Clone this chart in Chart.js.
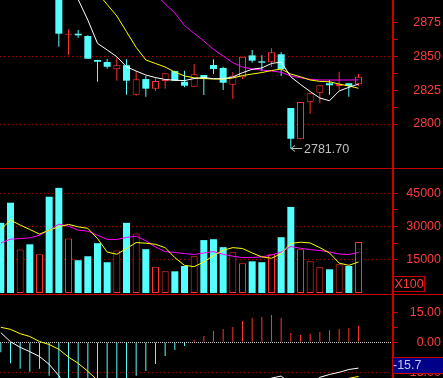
<!DOCTYPE html>
<html lang="en">
<head>
<meta charset="UTF-8">
<title>K-line</title>
<script src="https://cdn.jsdelivr.net/npm/chart.js"></script>
<style>
  body { margin: 0; background: #000; width: 443px; height: 378px; overflow: hidden; position: relative; }
  canvas { position: absolute; left: 0; }
</style>
</head>
<body>
<canvas id="priceChart" width="443" height="168" style="top:0px"></canvas>
<canvas id="volChart" width="443" height="126" style="top:168px"></canvas>
<canvas id="macdChart" width="443" height="84" style="top:294px"></canvas>
<script>
// candles (first six sit above the visible price range)
const opens  = [2958, 2946, 2926, 2934, 2918, 2927, 2906, 2866.0, 2866.7, 2865.0, 2847.3, 2845.8, 2840.4, 2843.4, 2821.6, 2833.2, 2826.1, 2831.8, 2839.1, 2831.2, 2827.5, 2836.2, 2843.6, 2841.4, 2829.0, 2834.5, 2850.7, 2846.3, 2845.6, 2851.5, 2811.8, 2788.7, 2816.0, 2823.1, 2830.1, 2828.1, 2830.1, 2829.3];
const highs  = [2962, 2949, 2940, 2936, 2930, 2929, 2908, 2870.0, 2869.4, 2865.5, 2847.5, 2848.0, 2849.3, 2847.8, 2839.1, 2835.5, 2834.2, 2837.4, 2839.3, 2839.4, 2844.3, 2836.2, 2847.8, 2842.3, 2838.4, 2849.7, 2854.7, 2850.7, 2855.9, 2853.0, 2811.8, 2816.2, 2822.7, 2828.6, 2832.5, 2838.6, 2830.1, 2836.9];
const lows   = [2941, 2925, 2920, 2915, 2912, 2904, 2857.1, 2851.0, 2863.7, 2848.0, 2831.2, 2840.8, 2832.0, 2821.6, 2821.0, 2820.2, 2824.6, 2826.1, 2832.0, 2827.1, 2827.5, 2821.4, 2836.9, 2825.1, 2818.7, 2833.2, 2845.3, 2838.9, 2842.3, 2835.5, 2781.7, 2788.7, 2807.6, 2815.3, 2821.6, 2825.1, 2820.2, 2828.1];
const closes = [2944, 2928, 2936, 2918, 2926, 2908, 2866.7, 2866.7, 2865.5, 2848.2, 2846.0, 2842.3, 2843.4, 2832.0, 2833.0, 2826.1, 2831.8, 2837.4, 2832.0, 2828.3, 2836.7, 2833.2, 2840.6, 2830.5, 2835.7, 2849.7, 2846.8, 2845.3, 2853.0, 2840.6, 2789.1, 2816.2, 2822.7, 2828.6, 2828.6, 2829.3, 2828.1, 2834.9];

// price moving averages
const ma5  = [null, null, null, null, null, null, 2922, 2906, 2892, 2876.8, 2859.6, 2854.7, 2849.7, 2842.3, 2839.1, 2836.2, 2834.3, 2832.9, 2832.3, 2832.1, 2833.6, 2834.3, 2833.5, 2833.5, 2834.7, 2837.9, 2840.4, 2841.4, 2844.7, 2845.8, 2834.9, 2829.2, 2824.0, 2819.2, 2817.2, 2824.4, 2827.1, 2829.5];
const ma10 = [null, null, null, null, null, null, null, null, null, 2905.6, 2896.8, 2888.3, 2879.8, 2868.2, 2856.6, 2847.3, 2844.7, 2842.1, 2838.4, 2835.5, 2834.1, 2833.6, 2833.2, 2833.2, 2834.0, 2835.8, 2836.9, 2838.0, 2839.5, 2840.6, 2836.9, 2834.9, 2832.5, 2831.5, 2831.2, 2829.5, 2828.1, 2826.4];
const ma20 = [null, null, null, null, null, null, null, null, null, null, null, null, null, null, 2908, 2902, 2895.3, 2888.8, 2882.0, 2872.7, 2867.0, 2861.3, 2855.2, 2850.2, 2845.3, 2842.1, 2840.6, 2839.9, 2839.1, 2838.2, 2835.5, 2834.2, 2833.0, 2832.5, 2832.5, 2832.5, 2832.5, 2832.6];

// volume (hands) and its averages
const volumes = [31700, 40800, 19600, 22000, 17500, 43500, 47500, 24600, 14800, 16600, 22500, 13900, 19200, 31700, 26900, 19800, 11900, 9800, 9800, 12200, 16600, 23900, 24300, 20700, 18400, 13400, 14300, 13900, 17500, 25200, 38900, 19800, 14300, 11600, 10700, 12950, 12200, 23000];
const volMa5  = [28700, 32950, 30700, 28700, 26600, 28400, 29900, 31000, 29900, 29200, 24600, 18500, 17500, 20100, 22800, 22500, 22000, 20500, 16000, 12500, 11900, 14000, 16900, 19300, 20500, 20100, 18100, 16300, 15700, 17800, 22400, 22950, 22600, 20500, 18100, 13500, 12500, 14000];
const volMa10 = [22600, 24300, 24600, 24900, 26100, 28400, 31100, 30200, 28400, 27950, 26100, 24200, 24200, 25100, 25700, 23600, 20800, 18700, 18300, 17800, 17400, 18100, 18700, 17500, 16600, 16000, 16000, 16300, 17200, 18500, 21000, 20200, 19600, 19200, 18500, 17600, 17400, 18300];

// MACD
const macdHist = [-5, -10.5, -13.2, -14.7, -13.2, -16.7, -21, -25, -28, -30, -30, -28, -25, -20.5, -16.7, -14.3, -10.8, -6.8, -3.8, -1.8, 1.2, 3.2, 5.7, 6.7, 7.7, 10.7, 12.2, 12.7, 13.7, 12.2, 4.7, 3.7, 4.3, 5.2, 6.2, 6.7, 7.2, 8.2];
const diff = [4.8, 0.3, -2.5, -4.7, -7.1, -11, -16.7, -24, -30, -35, -39, -42, -44, -45, -45, -44, -42, -40, -38, -35.5, -33, -30.5, -28, -26, -24, -22, -20.5, -19.5, -17.9, -16.9, -20.5, -22, -21.5, -17.5, -16.1, -15.0, -13.6, -12.9];
const dea  = [7.5, 6.5, 4.3, 2.9, 0.4, -1.1, -3.5, -7.4, -10.5, -14.5, -19, -23, -27, -30, -32.5, -34, -35, -35.5, -35.5, -35, -34, -33, -32, -31, -30, -29, -28, -27, -26, -24.5, -23.5, -23, -22.5, -21.5, -20.5, -19, -18, -17.1];
const macdReadout = -15.7;

// axis ticks
const priceTicks = [2800, 2812.5, 2825, 2837.5, 2850, 2862.5, 2875];
const priceLabels = [2800, 2825, 2850, 2875];
const priceGrid = [2800, 2850];
const volTicks = [15000, 22500, 30000, 37500, 45000];
const volLabels = [15000, 30000, 45000];
const macdTicks = [-15, -7.5, 0, 7.5, 15];
const macdLabels = [-15, 0, 15];

const CYAN = '#54ffff';
const RED = '#ff3232';
const AXIS_RED = '#c80000';
const GRID_RED = '#a80000';
const LABEL_RED = '#ff3c3c';
const FONT = 'Liberation Sans';

const isUp = closes.map((c, i) => c >= opens[i]);
const xy = (arr) => arr.map((v, i) => ({ x: i, y: v }));

const xAxis = { type: 'linear', display: false, offset: false, bounds: 'data', min: -0.086, max: 40.57 };

function rightAxis(min, max, tickVals, labelVals, fmt, gridColor, gridDash) {
    return {
        position: 'right',
        min: min,
        max: max,
        afterFit: (axis) => { axis.width = 48; axis.paddingTop = 0; axis.paddingBottom = 0; },
        afterBuildTicks: (axis) => { axis.ticks = tickVals.map(v => ({ value: v })); },
        ticks: {
            autoSkip: false,
            crossAlign: 'far',
            color: LABEL_RED,
            font: { family: FONT, size: 12.5 },
            callback: (v) => labelVals.includes(v) ? fmt(v) : ''
        },
        grid: {
            drawTicks: true,
            tickLength: 5,
            tickWidth: 1,
            tickColor: AXIS_RED,
            lineWidth: 1,
            color: (ctx) => (ctx.tick && gridColor(ctx.tick.value)) || 'rgba(0,0,0,0)'
        },
        border: {
            color: AXIS_RED,
            width: 2,
            dash: (ctx) => gridDash(ctx.tick ? ctx.tick.value : null)
        }
    };
}

const baseOptions = {
    responsive: false,
    animation: false,
    devicePixelRatio: 1,
    layout: { padding: { left: 0, right: 2, top: 0, bottom: 0 } },
    plugins: { legend: { display: false }, tooltip: { enabled: false } },
    elements: { point: { radius: 0 }, line: { borderWidth: 1, tension: 0 } }
};

function lineSet(data, color) {
    return { type: 'line', data: xy(data), borderColor: color, borderWidth: 1, pointRadius: 0, order: 0 };
}

function topLine(y) {
    return {
        id: 'separator',
        afterDraw(chart) {
            const c = chart.ctx;
            c.save();
            c.fillStyle = AXIS_RED;
            c.fillRect(0, y, chart.width, 1);
            c.restore();
        }
    };
}

// label for the lowest low
const lowMarker = {
    id: 'lowMarker',
    afterDatasetsDraw(chart) {
        const i = lows.indexOf(Math.min(...lows));
        const x = Math.floor(chart.scales.x.getPixelForValue(i)) + 1;
        const y = Math.floor(chart.scales.y.getPixelForValue(lows[i])) + 0.5;
        const c = chart.ctx;
        c.save();
        c.strokeStyle = '#c0c0c0';
        c.lineWidth = 1;
        c.beginPath();
        c.moveTo(x, y); c.lineTo(x + 11, y);
        c.moveTo(x, y); c.lineTo(x + 4, y - 3);
        c.moveTo(x, y); c.lineTo(x + 4, y + 3);
        c.stroke();
        c.fillStyle = '#c0c0c0';
        c.font = '12.5px ' + FONT;
        c.textBaseline = 'middle';
        c.fillText(lows[i].toFixed(2), x + 13, y + 1);
        c.restore();
    }
};

new Chart(document.getElementById('priceChart'), {
    type: 'bar',
    data: {
        datasets: [
            lineSet(ma5, '#ffffff'),
            lineSet(ma10, '#ffff00'),
            lineSet(ma20, '#ff00ff'),
            {
                data: opens.map((o, i) => ({ x: i, y: [Math.min(o, closes[i]), Math.max(o, closes[i])] })),
                backgroundColor: isUp.map(u => u ? '#000000' : CYAN),
                borderColor: isUp.map(u => u ? RED : CYAN),
                borderWidth: isUp.map(u => u ? 1 : 0),
                borderSkipped: false,
                inflateAmount: 0,
                barThickness: 7,
                minBarLength: 1,
                grouped: false,
                order: 1
            },
            {
                data: lows.map((l, i) => ({ x: i, y: [l, highs[i]] })),
                backgroundColor: isUp.map(u => u ? RED : CYAN),
                borderWidth: 0,
                inflateAmount: 0,
                barThickness: 1,
                grouped: false,
                order: 2
            }
        ]
    },
    options: Object.assign({}, baseOptions, {
        scales: {
            x: xAxis,
            y: rightAxis(2767.5, 2891.6, priceTicks, priceLabels, v => String(v),
                v => priceGrid.includes(v) ? GRID_RED : null, () => [1, 3])
        }
    }),
    plugins: [lowMarker]
});

const x100Box = {
    id: 'x100',
    afterDraw(chart) {
        const c = chart.ctx;
        const left = chart.chartArea.right + 1;
        c.save();
        c.strokeStyle = AXIS_RED;
        c.lineWidth = 1;
        c.strokeRect(left - 0.5, 108.5, 31, 15);
        c.fillStyle = LABEL_RED;
        c.font = '12.5px ' + FONT;
        c.textAlign = 'center';
        c.textBaseline = 'middle';
        c.fillText('X100', left + 15, 117);
        c.restore();
    }
};

new Chart(document.getElementById('volChart'), {
    type: 'bar',
    data: {
        datasets: [
            lineSet(volMa5, '#ffff00'),
            lineSet(volMa10, '#ff00ff'),
            {
                data: xy(volumes),
                backgroundColor: isUp.map(u => u ? '#000000' : CYAN),
                borderColor: isUp.map(u => u ? RED : CYAN),
                borderWidth: isUp.map(u => u ? 1 : 0),
                borderSkipped: false,
                inflateAmount: 0,
                barThickness: 7,
                grouped: false,
                order: 1
            }
        ]
    },
    options: Object.assign({}, baseOptions, {
        scales: {
            x: xAxis,
            y: rightAxis(-452, 56475, volTicks, volLabels, v => String(v),
                v => volLabels.includes(v) ? GRID_RED : null, () => [1, 3])
        }
    }),
    plugins: [topLine(0), x100Box]
});

const readoutBox = {
    id: 'readout',
    afterDraw(chart) {
        const c = chart.ctx;
        const left = chart.chartArea.right;
        c.save();
        c.fillStyle = '#000088';
        c.fillRect(left, 63, chart.width - left, 17);
        c.fillStyle = AXIS_RED;
        c.fillRect(left, 63, chart.width - left, 1);
        c.fillRect(left, 79, chart.width - left, 1);
        c.fillStyle = '#c8c8f0';
        c.font = '12.5px ' + FONT;
        c.textBaseline = 'middle';
        c.fillText(macdReadout.toFixed(1), left, 72);
        c.restore();
    }
};

new Chart(document.getElementById('macdChart'), {
    type: 'bar',
    data: {
        datasets: [
            lineSet(diff, '#ffffff'),
            lineSet(dea, '#ffff00'),
            {
                data: xy(macdHist),
                backgroundColor: macdHist.map(v => v >= 0 ? RED : CYAN),
                borderWidth: 0,
                inflateAmount: 0,
                barThickness: 1,
                grouped: false,
                order: 1
            }
        ]
    },
    options: Object.assign({}, baseOptions, {
        scales: {
            x: xAxis,
            y: rightAxis(-17.85, 24.15, macdTicks, macdLabels, v => v.toFixed(2),
                v => v === 0 ? '#c8c8c8' : (v === -15 ? GRID_RED : null),
                v => v === 0 ? [1, 1] : [1, 3])
        }
    }),
    plugins: [topLine(0), readoutBox]
});
</script>
</body>
</html>
